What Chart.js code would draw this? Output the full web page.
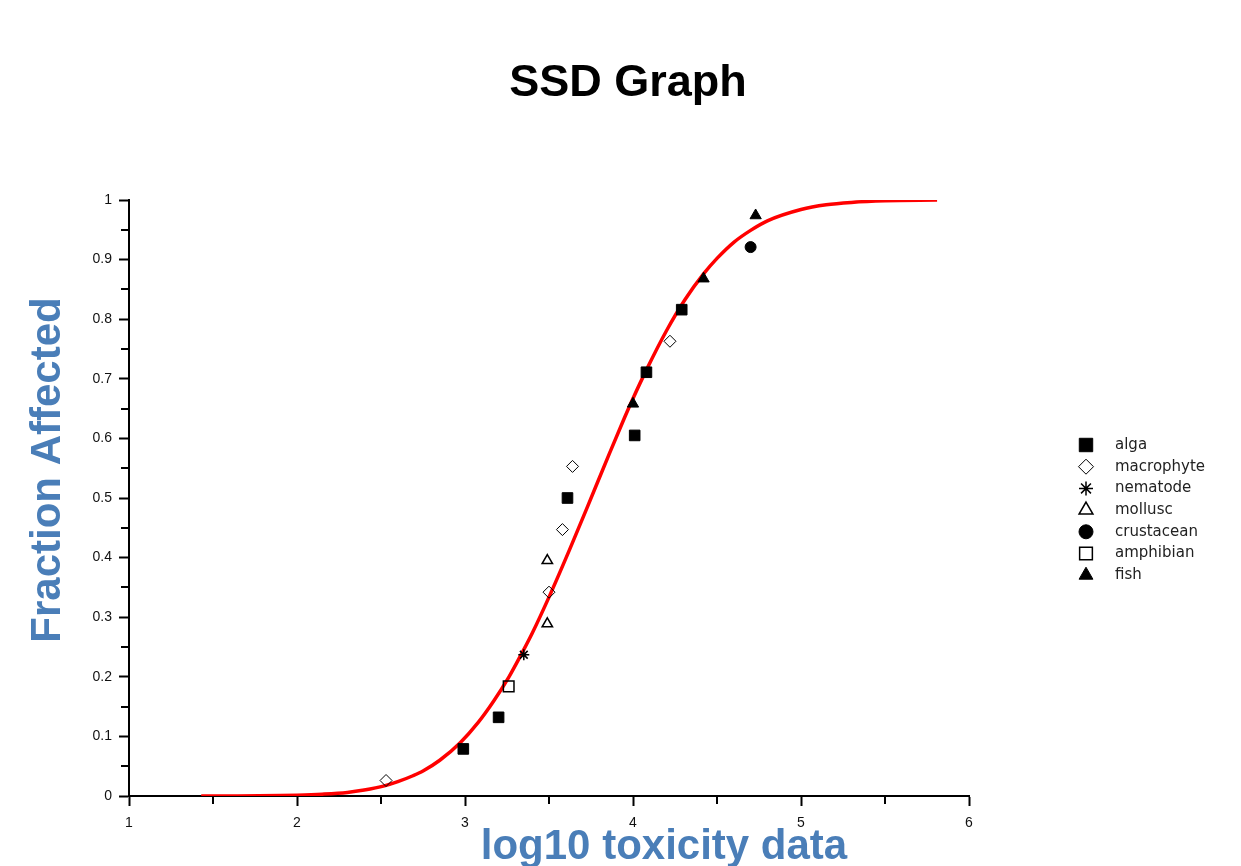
<!DOCTYPE html>
<html>
<head>
<meta charset="utf-8">
<script src="https://cdn.jsdelivr.net/npm/chart.js@4.4.1/dist/chart.umd.min.js"></script>
<style>
  html, body { margin: 0; padding: 0; background: #fff; }
  canvas { display: block; }
</style>
</head>
<body>
<canvas id="ssdChart" width="1241" height="866"></canvas>
<script>
// species points (log10 toxicity, fraction affected)
var algaX = [2.99, 3.20, 3.61, 4.01, 4.08, 4.29];
var algaY = [0.079, 0.132, 0.500, 0.605, 0.711, 0.816];
var macrophyteX = [2.53, 3.50, 3.58, 3.64, 4.22];
var macrophyteY = [0.026, 0.342, 0.447, 0.553, 0.763];
var nematodeX = [3.35];
var nematodeY = [0.237];
var molluscX = [3.49, 3.49];
var molluscY = [0.289, 0.395];
var crustaceanX = [4.70];
var crustaceanY = [0.921];
var amphibianX = [3.26];
var amphibianY = [0.184];
var fishX = [4.00, 4.42, 4.73];
var fishY = [0.658, 0.868, 0.974];

// fitted curve
var curveX = [1.43, 1.60, 1.90, 2.00, 2.15, 2.30, 2.40, 2.52, 2.60, 2.69, 2.75, 2.85, 2.97, 3.08, 3.17, 3.26, 3.345, 3.40, 3.51, 3.625, 3.73, 3.86, 3.95, 4.00, 4.08, 4.20, 4.31, 4.42, 4.50, 4.60, 4.70, 4.80, 5.00, 5.15, 5.30, 5.50, 5.81];
var curveY = [0.000, 0.0001, 0.0007, 0.0013, 0.003, 0.006, 0.010, 0.017, 0.024, 0.034, 0.042, 0.060, 0.089, 0.124, 0.159, 0.199, 0.243, 0.273, 0.340, 0.415, 0.486, 0.575, 0.635, 0.667, 0.715, 0.781, 0.833, 0.876, 0.902, 0.929, 0.949, 0.965, 0.984, 0.992, 0.996, 0.9987, 0.9998];

var xTickLabels = ['1', '2', '3', '4', '5', '6'];
var yTickLabels = ['0', '0.1', '0.2', '0.3', '0.4', '0.5', '0.6', '0.7', '0.8', '0.9', '1'];

function pts(xs, ys) {
  return xs.map(function (x, i) { return { x: x, y: ys[i] }; });
}

function markers(label, xs, ys, style, fill, radius, bw) {
  return {
    label: label,
    data: pts(xs, ys),
    pointStyle: style,
    pointRadius: radius,
    pointHoverRadius: radius,
    backgroundColor: fill,
    borderColor: '#000',
    pointBorderWidth: bw,
    borderWidth: bw
  };
}

var clear = 'rgba(0,0,0,0)';
var datasets = [
  markers('alga', algaX, algaY, 'rect', '#000', 7.5, 1),
  markers('macrophyte', macrophyteX, macrophyteY, 'rectRot', clear, 6, 1),
  markers('nematode', nematodeX, nematodeY, 'star', '#000', 5.5, 1.5),
  markers('mollusc', molluscX, molluscY, 'triangle', clear, 6, 1.5),
  markers('crustacean', crustaceanX, crustaceanY, 'circle', '#000', 5.5, 1),
  markers('amphibian', amphibianX, amphibianY, 'rect', clear, 7.5, 1.5),
  markers('fish', fishX, fishY, 'triangle', '#000', 6.5, 1),
  {
    label: 'fit',
    data: pts(curveX, curveY),
    showLine: true,
    borderColor: '#ff0000',
    borderWidth: 3.5,
    pointRadius: 0,
    cubicInterpolationMode: 'monotone',
    fill: false
  }
];

// legend sizes (a bit larger than plot markers)
var legendRadius = [9.5, 7.5, 7, 8, 7, 9, 8];

var extras = {
  id: 'extras',
  afterDraw: function (chart) {
    var ctx = chart.ctx;
    var xs = chart.scales.x, ys = chart.scales.y;
    ctx.save();
    // minor ticks
    ctx.strokeStyle = '#000';
    ctx.lineWidth = 2;
    ctx.beginPath();
    for (var v = 1.5; v < 6; v += 1) {
      var px = Math.round(xs.getPixelForValue(v));
      ctx.moveTo(px, xs.top);
      ctx.lineTo(px, xs.top + 8);
    }
    for (var k = 0; k < 10; k++) {
      var py = Math.round(ys.getPixelForValue(k / 10 + 0.05));
      ctx.moveTo(ys.right, py);
      ctx.lineTo(ys.right - 8, py);
    }
    ctx.stroke();

    // axis titles
    ctx.fillStyle = '#4a7eb8';
    ctx.font = 'bold 42px "Liberation Sans", Arial, sans-serif';
    ctx.textAlign = 'center';
    ctx.textBaseline = 'middle';
    ctx.fillText('log10 toxicity data', 664, 847);
    ctx.translate(48, 470);
    ctx.rotate(-Math.PI / 2);
    ctx.fillText('Fraction Affected', 0, 0);
    ctx.restore();

    // legend
    ctx.save();
    ctx.font = '15px "DejaVu Sans", sans-serif';
    ctx.textAlign = 'left';
    ctx.textBaseline = 'middle';
    for (var i = 0; i < 7; i++) {
      var ds = chart.data.datasets[i];
      var cy = 445 + i * 21.7;
      ctx.fillStyle = ds.backgroundColor === clear ? '#fff' : ds.backgroundColor;
      ctx.strokeStyle = '#000';
      ctx.lineWidth = ds.pointBorderWidth;
      if (Chart.helpers && Chart.helpers.drawPoint) {
        Chart.helpers.drawPoint(ctx, {
          pointStyle: ds.pointStyle,
          radius: legendRadius[i],
          rotation: 0,
          borderWidth: ds.pointBorderWidth
        }, 1086, cy);
      }
      ctx.fillStyle = '#222';
      ctx.fillText(ds.label, 1115, cy);
    }
    ctx.restore();
  }
};

Chart.defaults.font.family = '"Liberation Sans", Arial, sans-serif';
Chart.defaults.color = '#111';

new Chart(document.getElementById('ssdChart'), {
  type: 'scatter',
  data: { datasets: datasets },
  options: {
    responsive: false,
    animation: false,
    layout: { padding: { left: 15, right: 0, top: 0, bottom: 0 } },
    plugins: {
      legend: { display: false },
      tooltip: { enabled: false },
      title: {
        display: true,
        text: 'SSD Graph',
        color: '#000',
        font: { size: 45, weight: 'bold' },
        padding: { top: 57, bottom: 89 }
      }
    },
    scales: {
      x: {
        type: 'linear',
        min: 1,
        max: 6,
        afterFit: function (s) { s.height = 70; },
        border: { display: true, color: '#000', width: 2 },
        grid: { drawOnChartArea: false, drawTicks: true, tickLength: 10, tickWidth: 2, tickColor: '#000' },
        ticks: {
          stepSize: 1,
          padding: 9,
          font: { size: 14 },
          callback: function (v, i) { return xTickLabels[i]; }
        }
      },
      y: {
        type: 'linear',
        min: 0,
        max: 1,
        afterFit: function (s) { s.width = 114; },
        border: { display: true, color: '#000', width: 2 },
        grid: { drawOnChartArea: false, drawTicks: true, tickLength: 10, tickWidth: 2, tickColor: '#000' },
        ticks: {
          stepSize: 0.1,
          padding: 7,
          font: { size: 14 },
          callback: function (v, i) { return yTickLabels[i]; }
        }
      },
      yr: {
        type: 'linear',
        position: 'right',
        display: true,
        afterFit: function (s) { s.width = 272; },
        border: { display: false },
        grid: { display: false },
        ticks: { display: false }
      }
    }
  },
  plugins: [extras]
});
</script>
</body>
</html>
